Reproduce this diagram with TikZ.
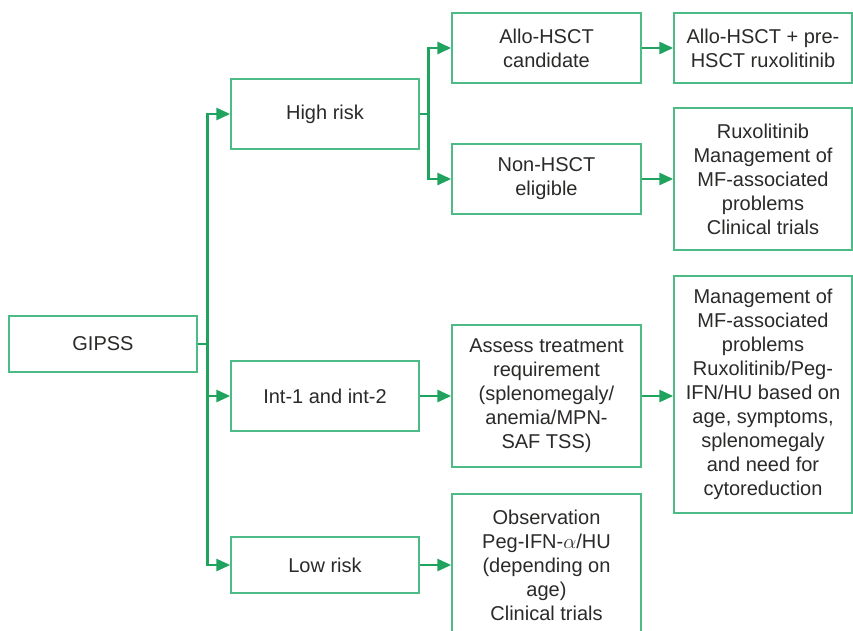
\documentclass[tikz,border=0pt]{standalone}
\usepackage{fontspec}
\setmainfont{Liberation Sans}
\usetikzlibrary{arrows.meta}
\definecolor{arrgreen}{HTML}{1FA35E}
\definecolor{boxgreen}{HTML}{4CBB85}
\definecolor{txt}{HTML}{2B2A29}
\begin{document}
\begin{tikzpicture}[x=1pt,y=-1pt,
  box/.style={draw=boxgreen,line width=1.5pt,fill=white,align=center,inner sep=0pt,
    text=txt,font=\fontsize{20}{24}\selectfont},
  arr/.style={draw=arrgreen,line width=2.8pt,-{Triangle[length=14pt,width=12pt]}}]
\useasboundingbox (0,0) rectangle (853,630);
\clip (0,0) rectangle (853,630);
% column 1
\node[box,minimum width=188pt,minimum height=56pt] (gipss) at (103,344) {GIPSS};
% column 2
\node[box,minimum width=188pt,minimum height=70pt] (high) at (325,114) {High risk};
\node[box,minimum width=188pt,minimum height=70pt] (int) at (325,396) {Int-1 and int-2};
\node[box,minimum width=188pt,minimum height=56pt] (low) at (325,565) {Low risk};
% column 3
\node[box,minimum width=189pt,minimum height=70pt] (allo) at (546.5,48) {Allo-HSCT\\candidate};
\node[box,minimum width=189pt,minimum height=70pt] (non) at (546.5,179) {Non-HSCT\\eligible};
\node[box,minimum width=189pt,minimum height=142pt] (assess) at (546.5,396) {Assess treatment\\requirement\\(splenomegaly/\\anemia/MPN-\\SAF TSS)};
\node[box,minimum width=189pt,minimum height=142pt] (obs) at (546.5,565) {Observation\\Peg-IFN-$\alpha$/HU\\(depending on\\age)\\Clinical trials};
% column 4
\node[box,minimum width=178pt,minimum height=70pt] (pre) at (763,48) {Allo-HSCT + pre-\\HSCT ruxolitinib};
\node[box,minimum width=178pt,minimum height=142pt] (rux) at (763,179) {Ruxolitinib\\Management of\\MF-associated\\problems\\Clinical trials};
\node[box,minimum width=178pt,minimum height=237pt] (mgmt) at (763,394.5) {Management of\\MF-associated\\problems\\Ruxolitinib/Peg-\\IFN/HU based on\\age, symptoms,\\splenomegaly\\and need for\\cytoreduction};
% connectors
\draw[arr] (gipss.east) -- ++(10,0) |- (high.west);
\draw[arr] (gipss.east) -- ++(10,0) |- (int.west);
\draw[arr] (gipss.east) -- ++(10,0) |- (low.west);
\draw[arr] (high.east) -- ++(9,0) |- (allo.west);
\draw[arr] (high.east) -- ++(9,0) |- (non.west);
\draw[arr] (allo.east) -- (pre.west);
\draw[arr] (non.east) -- (rux.west);
\draw[arr] (int.east) -- (assess.west);
\draw[arr] (assess.east) -- (assess.east -| mgmt.west);
\draw[arr] (low.east) -- (obs.west);
\end{tikzpicture}
\end{document}
